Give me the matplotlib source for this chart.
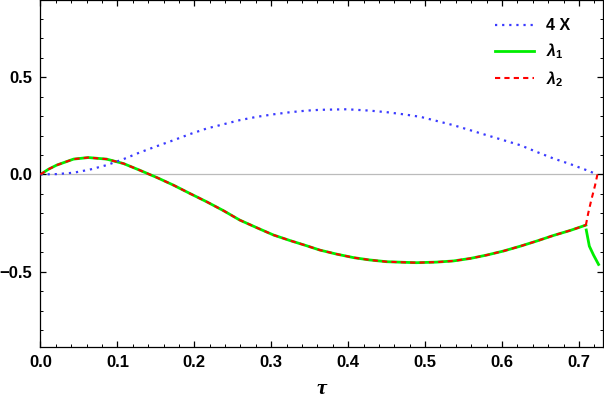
import numpy as np
import matplotlib.pyplot as plt
from matplotlib.ticker import MultipleLocator

# values
tau_x = [0.0, 0.021, 0.043, 0.064, 0.086, 0.108, 0.129, 0.151, 0.173, 0.194, 0.216,
         0.238, 0.259, 0.281, 0.303, 0.325, 0.346, 0.363, 0.398, 0.428, 0.450, 0.472,
         0.494, 0.515, 0.537, 0.559, 0.580, 0.602, 0.624, 0.645, 0.667, 0.689, 0.710, 0.724]
four_x = [0.0, 0.002, 0.009, 0.025, 0.048, 0.079, 0.113, 0.145, 0.176, 0.207, 0.236,
          0.258, 0.279, 0.296, 0.309, 0.320, 0.328, 0.332, 0.335, 0.328, 0.320, 0.309,
          0.296, 0.275, 0.253, 0.227, 0.202, 0.176, 0.150, 0.116, 0.082, 0.053, 0.022, 0.0]

# common branch (lambda1 == lambda2)
tau_l = [0.0, 0.010, 0.021, 0.043, 0.062, 0.086, 0.108, 0.129, 0.142, 0.151, 0.173,
         0.194, 0.216, 0.238, 0.259, 0.281, 0.303, 0.325, 0.346, 0.363, 0.385, 0.407,
         0.428, 0.450, 0.472, 0.489, 0.515, 0.537, 0.559, 0.580, 0.602, 0.624, 0.645,
         0.667, 0.689, 0.709]
lam = [0.0, 0.026, 0.048, 0.079, 0.087, 0.079, 0.056, 0.022, 0.0, -0.015, -0.055,
       -0.097, -0.14, -0.186, -0.234, -0.273, -0.311, -0.340, -0.366, -0.388, -0.409,
       -0.427, -0.439, -0.448, -0.451, -0.453, -0.450, -0.444, -0.431, -0.414, -0.393,
       -0.368, -0.342, -0.313, -0.287, -0.260]

# split branches near the end
tau_l1 = [0.7095, 0.7135, 0.719, 0.7255]
lam_1 = [-0.285, -0.368, -0.414, -0.462]
tau_l2 = [0.709, 0.712, 0.716, 0.721, 0.724]
lam_2 = [-0.260, -0.200, -0.132, -0.055, 0.0]

plt.rcParams['font.family'] = ['Liberation Sans', 'DejaVu Sans']
plt.rcParams['mathtext.fontset'] = 'custom'
plt.rcParams['mathtext.bf'] = 'Liberation Sans:bold'
plt.rcParams['mathtext.rm'] = 'Liberation Sans:bold'
plt.rcParams['mathtext.default'] = 'bf'

fig = plt.figure(figsize=(6.04, 4.08), dpi=100)
ax = fig.add_axes([0.067, 0.1495, 0.931, 0.8495])

ax.axhline(0, color='#bbbbbb', lw=0.9, zorder=1)

ax.plot(tau_x, four_x, color='#3a3aff', ls=(0, (1, 2.2)), lw=1.6, label='4 X', zorder=3)
ax.plot(tau_l, lam, color='#00ee00', lw=2.0, label='λ$_1$', zorder=2)
ax.plot(tau_l1, lam_1, color='#00ee00', lw=2.0, zorder=2)
ax.plot(tau_l, lam, color='red', ls=(0, (2.5, 2)), lw=1.5, label='λ$_2$', zorder=3)
ax.plot(tau_l2, lam_2, color='red', ls=(0, (2.5, 2)), lw=1.5, zorder=3)

ax.xaxis.set_major_locator(MultipleLocator(0.1))
ax.xaxis.set_minor_locator(MultipleLocator(0.02))
ax.yaxis.set_major_locator(MultipleLocator(0.5))
ax.yaxis.set_minor_locator(MultipleLocator(0.1))
ax.tick_params(which='both', direction='in', top=True, right=True, labelsize=12, pad=6)
ax.tick_params(which='major', length=4, width=0.9)
ax.tick_params(which='minor', length=2, width=0.7)
ax.set_xlim(0, 0.731)
ax.set_ylim(-0.886, 0.894)
ax.set_xticks(np.arange(0, 0.75, 0.1))
ax.set_xticklabels([f'{v:.1f}' for v in np.arange(0, 0.75, 0.1)], fontweight='bold')
ax.set_yticks([-0.5, 0.0, 0.5])
ax.set_yticklabels(['\u22120.5', '0.0', '0.5'], fontweight='bold')
for s in ax.spines.values():
    s.set_linewidth(0.9)

ax.set_xlabel('τ', fontsize=16, fontweight='bold', fontstyle='italic',
              family='Liberation Serif', labelpad=6)

leg = ax.legend(loc='upper right', bbox_to_anchor=(0.968, 0.99), frameon=False,
                handlelength=2.4, prop={'weight': 'bold', 'size': 11.5},
                labelspacing=0.5)
for t in leg.get_texts()[1:]:
    t.set_fontstyle('italic')

fig.savefig('out.png', dpi=100)
